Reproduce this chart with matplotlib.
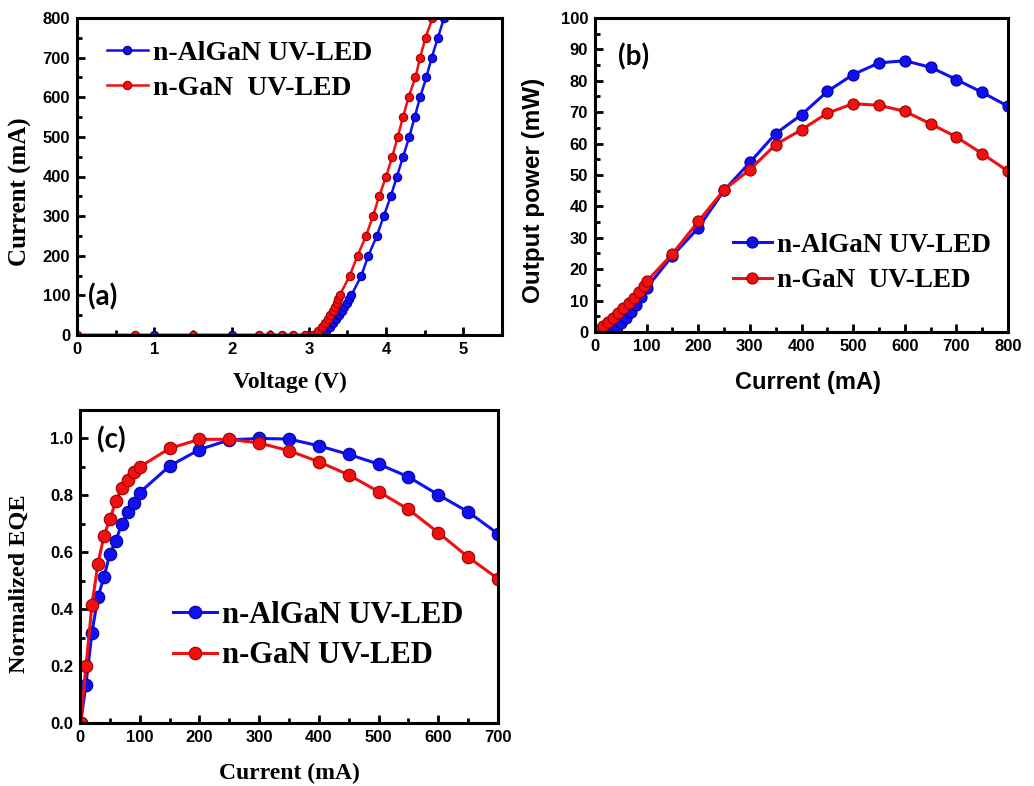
import matplotlib.pyplot as plt
from matplotlib.ticker import MultipleLocator

# ---- data ----
# (a) I-V
v_algan = [0, 1.0, 2.0, 3.0, 3.15, 3.22, 3.27, 3.31, 3.35, 3.39, 3.43, 3.46, 3.49, 3.52, 3.55,
           3.68, 3.77, 3.88, 3.97, 4.06, 4.14, 4.22, 4.30, 4.37, 4.44, 4.52, 4.59, 4.67, 4.75]
i_algan = [0, 0, 0, 0, 0, 10, 20, 30, 40, 50, 60, 70, 80, 90, 100,
           150, 200, 250, 300, 350, 400, 450, 500, 550, 600, 650, 700, 750, 800]
v_gan = [0, 0.75, 1.5, 2.35, 2.5, 2.65, 2.8, 2.95, 3.05, 3.12, 3.17, 3.21, 3.25, 3.28, 3.31,
         3.34, 3.36, 3.38, 3.40, 3.53, 3.63, 3.74, 3.83, 3.91, 4.00, 4.08, 4.15, 4.22, 4.29,
         4.38, 4.44, 4.51, 4.60]
i_gan = [0, 0, 0, 0, 0, 0, 0, 0, 1, 10, 20, 30, 40, 50, 60,
         70, 80, 90, 100, 150, 200, 250, 300, 350, 400, 450, 500, 550, 600,
         650, 700, 750, 800]

# (b) L-I
cur_b_algan = [30, 40, 50, 60, 70, 80, 90, 100, 150, 200, 250, 300, 350, 400, 450,
               500, 550, 600, 650, 700, 750, 800]
pow_algan = [0, 1.5, 3.0, 4.6, 6.5, 8.5, 11.0, 14.0, 24.3, 33.1, 45.1, 54.0, 63.2, 69.2, 76.6,
             82.0, 85.7, 86.4, 84.3, 80.4, 76.3, 71.9]
cur_b_gan = [5, 15, 25, 35, 45, 55, 65, 75, 85, 95, 100, 150, 200, 250, 300, 350, 400, 450,
             500, 550, 600, 650, 700, 750, 800]
pow_gan = [0.5, 1.8, 3.2, 4.6, 6.0, 7.6, 9.2, 10.9, 12.6, 14.5, 16.1, 24.9, 35.2, 45.3, 51.7,
           59.7, 64.4, 69.7, 72.7, 72.2, 70.3, 66.3, 62.1, 56.8, 51.2]

# (c) normalized EQE
cur_c = [1, 10, 20, 30, 40, 50, 60, 70, 80, 90, 100, 150, 200, 250, 300, 350, 400, 450,
         500, 550, 600, 650, 700]
eqe_algan = [0, 0.135, 0.318, 0.442, 0.512, 0.594, 0.641, 0.70, 0.74, 0.772, 0.81, 0.903,
             0.961, 0.995, 1.0, 0.998, 0.974, 0.944, 0.91, 0.865, 0.802, 0.742, 0.665]
eqe_gan = [0, 0.199, 0.415, 0.559, 0.657, 0.716, 0.78, 0.825, 0.854, 0.883, 0.90, 0.965,
           0.997, 0.997, 0.984, 0.957, 0.918, 0.872, 0.813, 0.751, 0.669, 0.583, 0.507]

BLUE = "#1010f0"
RED = "#f01010"
serif = "Liberation Serif"
sans = "Liberation Sans"

fig = plt.figure(figsize=(10.34, 7.86), dpi=100)
ax_a = fig.add_axes([77/1034, 1-335/786, 425/1034, 317/786])
ax_b = fig.add_axes([595/1034, 1-332/786, 413/1034, 314/786])
ax_c = fig.add_axes([80/1034, 1-723/786, 418/1034, 313/786])


def style_axes(ax, xmaj, xmin, ymaj, ymin):
    for s in ax.spines.values():
        s.set_linewidth(2.2)
    ax.xaxis.set_major_locator(MultipleLocator(xmaj))
    ax.xaxis.set_minor_locator(MultipleLocator(xmin))
    ax.yaxis.set_major_locator(MultipleLocator(ymaj))
    ax.yaxis.set_minor_locator(MultipleLocator(ymin))
    ax.tick_params(which="both", direction="in", top=False, right=False, width=2)
    ax.tick_params(which="major", length=6, labelsize=12, pad=5)
    ax.tick_params(which="minor", length=3.5)
    for lab in ax.get_xticklabels() + ax.get_yticklabels():
        lab.set_fontfamily(sans)
        lab.set_fontweight("bold")


# ---- (a) ----
ax_a.plot(v_algan, i_algan, "-o", color=BLUE, lw=1.8, ms=6, mec="#0000a0", mew=0.8,
          label="n-AlGaN UV-LED")
ax_a.plot(v_gan, i_gan, "-o", color=RED, lw=1.8, ms=6, mec="#a00000", mew=0.8,
          label="n-GaN  UV-LED")
ax_a.set_xlim(0, 5.5)
ax_a.set_ylim(0, 800)
style_axes(ax_a, 1, 0.5, 100, 50)
ax_a.set_xlabel("Voltage (V)", fontfamily=serif, fontweight="bold", fontsize=17, va="center")
ax_a.set_ylabel("Current (mA)", fontfamily=serif, fontweight="bold", fontsize=18, va="center")
ax_a.xaxis.set_label_coords(0.5, -0.151)
ax_a.yaxis.set_label_coords(-0.134, 0.451)
ax_a.legend(loc="upper left", bbox_to_anchor=(0.07, 0.93), frameon=False,
            prop={"family": serif, "weight": "bold", "size": 20},
            handlelength=1.47, handletextpad=0.18, labelspacing=0.35, borderpad=0, borderaxespad=0)
ax_a.text(0.025, 0.12, "(a)", transform=ax_a.transAxes, fontsize=20, fontweight="bold",
          fontfamily="Lato", va="center", ha="left")

# ---- (b) ----
ax_b.plot(cur_b_algan, pow_algan, "-o", color=BLUE, lw=2.2, ms=8, mec="#0000a0", mew=0.8,
          label="n-AlGaN UV-LED")
ax_b.plot(cur_b_gan, pow_gan, "-o", color=RED, lw=2.2, ms=8, mec="#a00000", mew=0.8,
          label="n-GaN  UV-LED")
ax_b.set_xlim(0, 800)
ax_b.set_ylim(0, 100)
style_axes(ax_b, 100, 50, 10, 5)
ax_b.set_xlabel("Current (mA)", fontfamily=sans, fontweight="bold", fontsize=17, va="center")
ax_b.set_ylabel("Output power (mW)", fontfamily=sans, fontweight="bold", fontsize=17.5, va="center")
ax_b.xaxis.set_label_coords(0.515, -0.162)
ax_b.yaxis.set_label_coords(-0.150, 0.452)
ax_b.legend(loc="upper left", bbox_to_anchor=(0.334, 0.316), frameon=False,
            prop={"family": serif, "weight": "bold", "size": 19.5},
            handlelength=1.44, handletextpad=0.18, labelspacing=0.385, borderpad=0, borderaxespad=0)
ax_b.text(0.055, 0.875, "(b)", transform=ax_b.transAxes, fontsize=20, fontweight="bold",
          fontfamily="Lato", va="center", ha="left")

# ---- (c) ----
ax_c.plot(cur_c, eqe_algan, "-o", color=BLUE, lw=2.2, ms=9, mec="#0000a0", mew=0.8,
          label="n-AlGaN UV-LED")
ax_c.plot(cur_c, eqe_gan, "-o", color=RED, lw=2.2, ms=9, mec="#a00000", mew=0.8,
          label="n-GaN UV-LED")
ax_c.set_xlim(0, 700)
ax_c.set_ylim(0, 1.1)
style_axes(ax_c, 100, 50, 0.2, 0.1)
ax_c.set_xlabel("Current (mA)", fontfamily=serif, fontweight="bold", fontsize=17, va="center")
ax_c.set_ylabel("Normalized EQE", fontfamily=serif, fontweight="bold", fontsize=17.5, va="center")
ax_c.xaxis.set_label_coords(0.5, -0.160)
ax_c.yaxis.set_label_coords(-0.144, 0.444)
ax_c.legend(loc="upper left", bbox_to_anchor=(0.222, 0.39), frameon=False,
            prop={"family": serif, "weight": "bold", "size": 22},
            handlelength=1.44, handletextpad=0.18, labelspacing=0.37, borderpad=0, borderaxespad=0)
ax_c.text(0.04, 0.905, "(c)", transform=ax_c.transAxes, fontsize=20, fontweight="bold",
          fontfamily="Lato", va="center", ha="left")

fig.savefig("out.png", dpi=100)
